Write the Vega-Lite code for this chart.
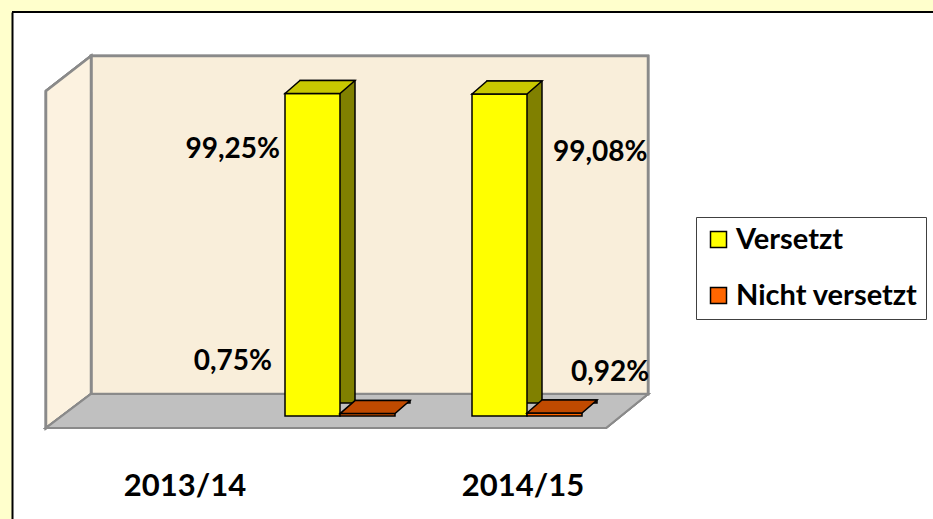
{
  "$schema": "https://vega.github.io/schema/vega-lite/v6.json",
  "width": 921,
  "height": 507,
  "autosize": "none",
  "padding": {"left": 12, "top": 12, "right": 0, "bottom": 0},
  "background": "#FFFFCC",
  "config": {
    "view": {"stroke": null, "fill": "white"},
    "font": "Lato",
    "locale": {"number": {"decimal": ",", "thousands": ".", "grouping": [3], "currency": ["", " €"]}},
    "axis": {"domain": true, "domainColor": "black", "domainWidth": 2, "labels": false, "ticks": false, "grid": false, "title": null}
  },
  "data": {"values": [
    {"year": "2013/14", "series": "Versetzt", "value": 0.9925},
    {"year": "2013/14", "series": "Nicht versetzt", "value": 0.0075},
    {"year": "2014/15", "series": "Versetzt", "value": 0.9908},
    {"year": "2014/15", "series": "Nicht versetzt", "value": 0.0092}
  ]},
  "encoding": {
    "x": {"field": "year", "type": "nominal", "axis": null,
          "scale": {"domain": ["2013/14", "2014/15"], "range": [234.5, 608.5], "paddingInner": 0, "paddingOuter": 0}},
    "y": {"field": "value", "type": "quantitative", "axis": {"orient": "left"},
          "scale": {"domain": [-0.3169, 1.2431], "nice": false, "zero": false}}
  },
  "layer": [
    {
      "mark": {"type": "point", "filled": true, "opacity": 1, "fill": "#F9EEDA", "stroke": "#8A8A8A", "strokeWidth": 2.5,
               "shape": "M -1 -0.6068 L 1 -0.6068 L 1 0.6068 L -1 0.6068 Z", "size": 310249, "xOffset": 29.5, "yOffset": -191},
      "encoding": {"x": {"datum": "2013/14"}, "y": {"datum": 0}}
    },
    {
      "mark": {"type": "point", "filled": true, "opacity": 1, "fill": "#FCF2E0", "stroke": "#8A8A8A", "strokeWidth": 2.5,
               "shape": "M -0.121 -0.8118 L 0.121 -1 L 0.121 0.8172 L -0.121 1 Z", "size": 138384, "xOffset": -271.5, "yOffset": -174},
      "encoding": {"x": {"datum": "2013/14"}, "y": {"datum": 0}}
    },
    {
      "mark": {"type": "point", "filled": true, "opacity": 1, "fill": "#C0C0C0", "stroke": "#8A8A8A", "strokeWidth": 2,
               "shape": "M -1 0.0565 L -0.8505 -0.0565 L 1 -0.0565 L 0.8605 0.0565 Z", "size": 362404, "xOffset": 7, "yOffset": -5},
      "encoding": {"x": {"datum": "2013/14"}, "y": {"datum": 0}}
    },
    {
      "mark": {"type": "rule", "color": "black", "strokeWidth": 2},
      "encoding": {"x": null, "y": {"datum": 1.2431}}
    },
    {
      "transform": [{"filter": "datum.series === 'Versetzt'"}],
      "mark": {"type": "bar", "width": 55, "xOffset": -12.5, "yOffset": -13, "fill": "#808000", "stroke": "black", "strokeWidth": 1.5}
    },
    {
      "transform": [{"filter": "datum.series === 'Nicht versetzt'"}],
      "mark": {"type": "bar", "width": 55, "xOffset": 42.5, "yOffset": -13, "fill": "#7A2E00", "stroke": "black", "strokeWidth": 1.5}
    },
    {
      "transform": [{"filter": "datum.series === 'Versetzt'"}],
      "mark": {"type": "bar", "width": 55, "xOffset": -27.5, "stroke": "black", "strokeWidth": 1.5},
      "encoding": {
        "color": {"field": "series", "type": "nominal",
                  "scale": {"domain": ["Versetzt", "Nicht versetzt"], "range": ["#FFFF00", "#FF6600"]},
                  "legend": {"title": null, "orient": "none", "legendX": 684, "legendY": 205, "direction": "vertical",
                             "fillColor": "white", "strokeColor": "#404040", "padding": 8,
                             "symbolType": "square", "symbolSize": 256, "symbolStrokeColor": "black", "symbolStrokeWidth": 1.5,
                             "symbolOpacity": 1,
                             "labelFont": "Lato", "labelFontSize": 29, "labelFontWeight": "bold", "labelColor": "black",
                             "labelOffset": 3, "rowPadding": 26, "labelLimit": 400}}
      }
    },
    {
      "transform": [{"filter": "datum.series === 'Nicht versetzt'"}],
      "mark": {"type": "bar", "width": 55, "xOffset": 27.5, "stroke": "black", "strokeWidth": 1.5},
      "encoding": {
        "color": {"field": "series", "type": "nominal"}
      }
    },
    {
      "transform": [{"filter": "datum.series === 'Versetzt'"}],
      "mark": {"type": "point", "filled": true, "opacity": 1, "fill": "#C8C800", "stroke": "black", "strokeWidth": 1.5,
               "shape": "M -1 0.1857 L -0.5714 -0.1857 L 1 -0.1857 L 0.5714 0.1857 Z", "size": 4900, "xOffset": -20, "yOffset": -6.5}
    },
    {
      "transform": [{"filter": "datum.series === 'Nicht versetzt'"}],
      "mark": {"type": "point", "filled": true, "opacity": 1, "fill": "#C04A00", "stroke": "black", "strokeWidth": 1.5,
               "shape": "M -1 0.1857 L -0.5714 -0.1857 L 1 -0.1857 L 0.5714 0.1857 Z", "size": 4900, "xOffset": 35, "yOffset": -6.5}
    },
    {
      "transform": [{"filter": "datum.year === '2013/14' && datum.series === 'Versetzt'"}],
      "mark": {"type": "text", "align": "right", "baseline": "middle", "dx": -60, "dy": 57, "fontSize": 28, "fontWeight": "bold", "color": "black"},
      "encoding": {"text": {"field": "value", "type": "quantitative", "format": ".2%"}}
    },
    {
      "transform": [{"filter": "datum.year === '2013/14' && datum.series === 'Nicht versetzt'"}],
      "mark": {"type": "text", "align": "right", "baseline": "middle", "dx": -68, "dy": -52, "fontSize": 28, "fontWeight": "bold", "color": "black"},
      "encoding": {"text": {"field": "value", "type": "quantitative", "format": ".2%"}}
    },
    {
      "transform": [{"filter": "datum.year === '2014/15' && datum.series === 'Versetzt'"}],
      "mark": {"type": "text", "align": "left", "baseline": "middle", "dx": 26, "dy": 59, "fontSize": 28, "fontWeight": "bold", "color": "black"},
      "encoding": {"text": {"field": "value", "type": "quantitative", "format": ".2%"}}
    },
    {
      "transform": [{"filter": "datum.year === '2014/15' && datum.series === 'Nicht versetzt'"}],
      "mark": {"type": "text", "align": "left", "baseline": "middle", "dx": 44, "dy": -40, "fontSize": 28, "fontWeight": "bold", "color": "black"},
      "encoding": {"text": {"field": "value", "type": "quantitative", "format": ".2%"}}
    },
    {
      "transform": [{"filter": "datum.year === '2013/14' && datum.series === 'Versetzt'"}],
      "mark": {"type": "text", "align": "center", "baseline": "middle", "dx": -155, "dy": 71, "fontSize": 31, "fontWeight": "bold", "color": "black"},
      "encoding": {"y": {"datum": 0}, "text": {"field": "year", "type": "nominal"}}
    },
    {
      "transform": [{"filter": "datum.year === '2014/15' && datum.series === 'Versetzt'"}],
      "mark": {"type": "text", "align": "center", "baseline": "middle", "dx": -4, "dy": 71, "fontSize": 31, "fontWeight": "bold", "color": "black"},
      "encoding": {"y": {"datum": 0}, "text": {"field": "year", "type": "nominal"}}
    }
  ]
}
